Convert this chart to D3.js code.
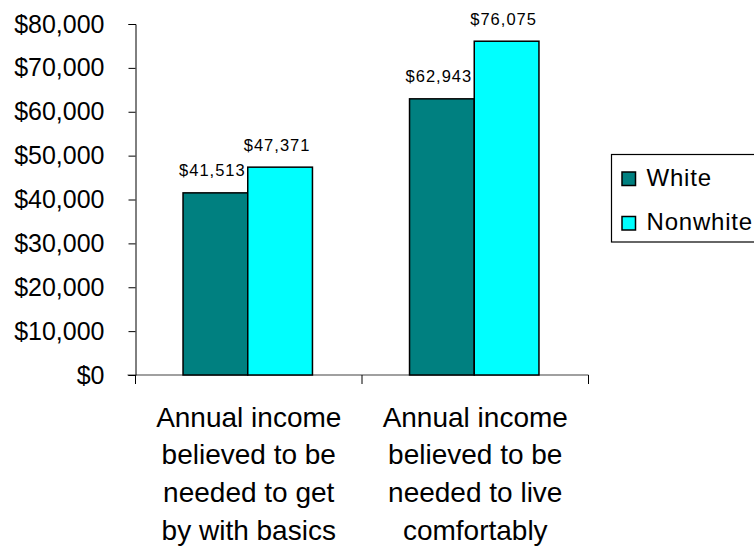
<!DOCTYPE html>
<html>
<head>
<meta charset="utf-8">
<script src="https://cdn.jsdelivr.net/npm/d3@7"></script>
<style>
  html, body { margin: 0; padding: 0; background: #fff; }
  svg { display: block; font-family: Arial, "Liberation Sans", sans-serif; }
</style>
</head>
<body>
<svg id="chart" width="754" height="547"></svg>
<script>
// Income needed, by race of respondent
const categories = [
  ["Annual income", "believed to be", "needed to get", "by with basics"],
  ["Annual income", "believed to be", "needed to live", "comfortably"]
];
const seriesNames = ["White", "Nonwhite"];
const whiteValues = [41513, 62943];
const nonwhiteValues = [47371, 76075];
const yTicks = [0, 10000, 20000, 30000, 40000, 50000, 60000, 70000, 80000];
const colors = ["#008080", "#00FFFF"];

const series = [whiteValues, nonwhiteValues];
const svg = d3.select("#chart");

const plot = { left: 135.5, right: 588.5, top: 24, bottom: 375 };

const y = d3.scaleLinear().domain([0, 80000]).range([plot.bottom, plot.top]);
const x0 = d3.scaleBand().domain(d3.range(categories.length))
  .range([plot.left, plot.right]).padding(0);
// Excel-style gap width of 150% between clusters
const barW = x0.bandwidth() / (seriesNames.length + 1.5);
const x1 = d3.scaleBand().domain(d3.range(seriesNames.length))
  .range([0, barW * seriesNames.length]).padding(0);
const groupOffset = (x0.bandwidth() - barW * seriesNames.length) / 2 - 1;

// x axis line and category ticks
svg.append("line")
  .attr("x1", plot.left - 8).attr("x2", plot.right)
  .attr("y1", plot.bottom).attr("y2", plot.bottom)
  .attr("stroke", "#808080").attr("stroke-width", 1.5);
const xTickPos = d3.range(categories.length + 1).map(i => plot.left + i * x0.step());
svg.selectAll("line.xtick").data(xTickPos).join("line")
  .attr("class", "xtick")
  .attr("x1", d => d).attr("x2", d => d)
  .attr("y1", plot.bottom).attr("y2", plot.bottom + 9)
  .attr("stroke", "#000").attr("stroke-width", 1);

// y axis
const yAxis = d3.axisLeft(y)
  .tickValues(yTicks)
  .tickSize(7)
  .tickPadding(24)
  .tickFormat(d => "$" + d3.format(",")(d));
const gy = svg.append("g")
  .attr("transform", `translate(${plot.left},0)`)
  .call(yAxis);
gy.select(".domain").attr("stroke", "#000").attr("stroke-width", 1);
gy.selectAll(".tick line").attr("stroke", "#000");
gy.selectAll(".tick text")
  .attr("font-size", 25).attr("fill", "#000")
  .attr("font-family", "Arial, 'Liberation Sans', sans-serif");

// bars
const groups = svg.selectAll("g.cat").data(d3.range(categories.length)).join("g")
  .attr("class", "cat")
  .attr("transform", i => `translate(${x0(i) + groupOffset},0)`);

groups.selectAll("rect").data(i => series.map((s, k) => ({ k, v: s[i] }))).join("rect")
  .attr("x", d => x1(d.k))
  .attr("y", d => y(d.v))
  .attr("width", x1.bandwidth())
  .attr("height", d => y(0) - y(d.v))
  .attr("fill", d => colors[d.k])
  .attr("stroke", "#000")
  .attr("stroke-width", 1.5);

// value labels
groups.selectAll("text.val").data(i => series.map((s, k) => ({ k, v: s[i] }))).join("text")
  .attr("class", "val")
  .attr("x", d => x1(d.k) + x1.bandwidth() / 2 - 3)
  .attr("y", d => y(d.v) - 16.5)
  .attr("text-anchor", "middle")
  .attr("font-size", 16.5)
  .attr("letter-spacing", 1)
  .attr("fill", "#000")
  .text(d => "$" + d3.format(",")(d.v));

// category labels
svg.selectAll("text.cat").data(categories).join("text")
  .attr("class", "cat")
  .attr("text-anchor", "middle")
  .attr("font-size", 28)
  .attr("fill", "#000")
  .each(function (lines, i) {
    d3.select(this).selectAll("tspan").data(lines).join("tspan")
      .attr("x", x0(i) + x0.bandwidth() / 2)
      .attr("y", (d, j) => 426.5 + j * 37.7)
      .text(d => d);
  });

// legend
const legend = svg.append("g");
legend.append("rect")
  .attr("x", 611.5).attr("y", 154.5)
  .attr("width", 160).attr("height", 87.5)
  .attr("fill", "#fff").attr("stroke", "#000").attr("stroke-width", 1.2);
const items = legend.selectAll("g.item").data(seriesNames).join("g")
  .attr("class", "item")
  .attr("transform", (d, i) => `translate(0,${i * 44.5})`);
items.append("rect")
  .attr("x", 622).attr("y", 172)
  .attr("width", 13.5).attr("height", 13.5)
  .attr("fill", (d, i) => colors[i])
  .attr("stroke", "#000").attr("stroke-width", 1.5);
items.append("text")
  .attr("x", 646.5).attr("y", 185.5)
  .attr("font-size", 24)
  .attr("letter-spacing", 0.8)
  .attr("fill", "#000")
  .text(d => d);
</script>
</body>
</html>
